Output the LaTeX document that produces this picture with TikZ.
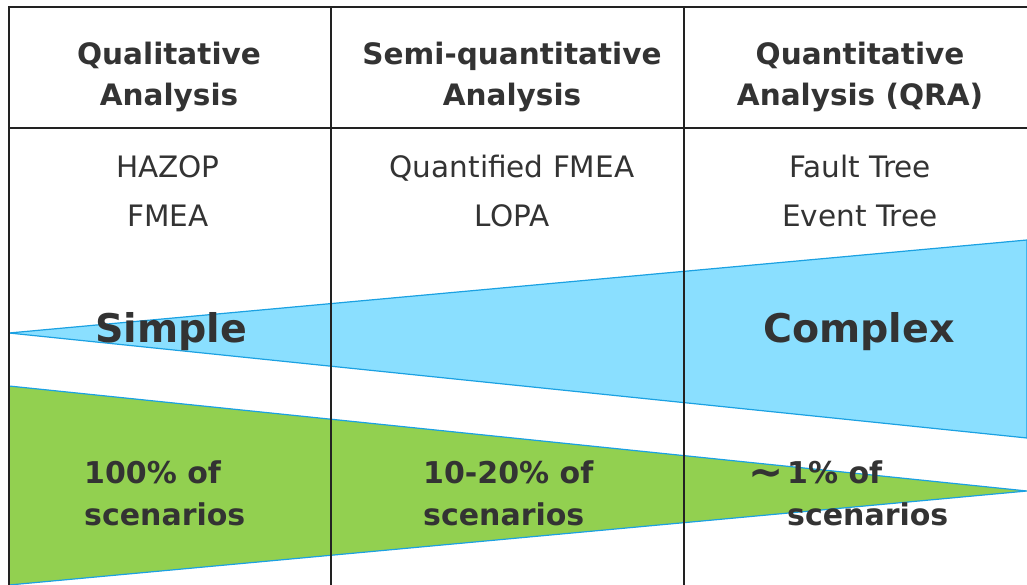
\documentclass[tikz,border=0pt]{standalone}
\usepackage{fontspec}
\setmainfont{DejaVu Sans}
\definecolor{txt}{HTML}{333333}
\definecolor{bluefill}{HTML}{8ADFFF}
\definecolor{bluestroke}{HTML}{1BA1E2}
\definecolor{greenfill}{HTML}{92D050}
\definecolor{frame}{HTML}{222222}
\tikzset{
  hdr/.style={text=txt, align=center, inner sep=0pt, font=\fontsize{29.5}{41}\selectfont\bfseries},
  body/.style={text=txt, align=center, inner sep=0pt, font=\fontsize{29.5}{49}\selectfont},
  big/.style={text=txt, inner sep=0pt, font=\fontsize{39.5}{44}\selectfont\bfseries},
  share/.style={text=txt, align=left, anchor=west, inner sep=0pt, font=\fontsize{30}{42}\selectfont\bfseries},
  tri/.style={draw=bluestroke, line width=1.2pt},
  rule/.style={draw=frame, line width=1.5pt},
  col/.style={draw=frame, line width=2.5pt}
}
\begin{document}
\begin{tikzpicture}[x=1pt,y=-1pt]
\useasboundingbox[fill=white] (0,0) rectangle (1027,585);
% triangles
\filldraw[tri, fill=bluefill] (9,333) -- (1027,240) -- (1027,438) -- cycle;
\filldraw[tri, fill=greenfill] (9,386) -- (1027,491) -- (9,585) -- cycle;
% frame
\draw[rule] (1027,7) -- (9,7) -- (9,585);
\draw[rule] (9,128) -- (1027,128);
\draw[col] (331,7) -- (331,585);
\draw[col] (684,7) -- (684,585);
% headers
\node[hdr] (h1) at (169,77) {Qualitative\\Analysis};
\node[hdr] (h2) at (512,77) {Semi-quantitative\\Analysis};
\node[hdr] (h3) at (860,77) {Quantitative\\Analysis (QRA)};
% methods
\node[body] (m1) at (168,191) {HAZOP\\FMEA};
\node[body] (m2) at (512,191) {Quantified FMEA\\LOPA};
\node[body] (m3) at (860,191) {Fault Tree\\Event Tree};
% complexity
\node[big] (simple) at (171,332) {Simple};
\node[big] (complex) at (859,332) {Complex};
% scenario shares
\node[share] (s1) at (84,493) {100\% of\\scenarios};
\node[share] (s2) at (423,493) {10-20\% of\\scenarios};
\node[share] (s3) at (787,493) {1\% of\\scenarios};
\node[text=txt, inner sep=0pt, font=\fontsize{42}{44}\selectfont\bfseries] (tilde) at (766,478) {∼};
\end{tikzpicture}
\end{document}
